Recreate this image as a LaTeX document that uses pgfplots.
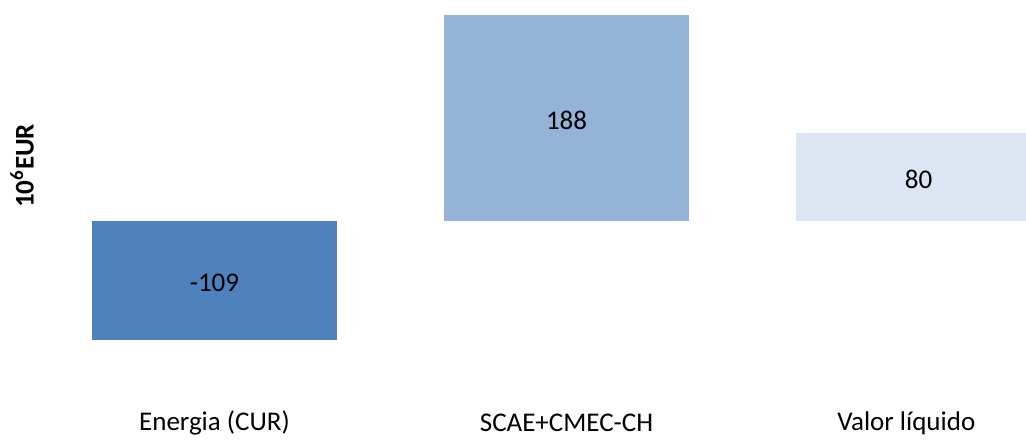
\documentclass[border=0pt]{standalone}
\usepackage{pgfplots}
\pgfplotsset{compat=1.18}
\usepackage{fontspec}
\setmainfont{Carlito}

\definecolor{barA}{HTML}{4F81BD}
\definecolor{barB}{HTML}{95B3D7}
\definecolor{barC}{HTML}{DCE6F2}

\begin{document}
\begin{tikzpicture}[font=\fontsize{13.5pt}{16pt}\selectfont]
\begin{axis}[
    scale only axis,
    width=513pt, height=216.5pt,
    xmin=-0.609, xmax=2.305,
    ymin=-193.6, ymax=201.8,
    axis line style={draw=none},
    tick style={draw=none},
    ytick=\empty,
    xtick={0,1,1.965},
    xticklabels={Energia (CUR), SCAE+CMEC-CH, Valor líquido},
    xticklabel style={anchor=center, yshift=5pt},
    ylabel={\textbf{10\textsuperscript{6}EUR}},
    ylabel style={at={(rel axis cs:0.0214,0.617)}, anchor=center},
    bar width=0.696,
]
\path (rel axis cs:0,0) rectangle (rel axis cs:1,1);
\addplot[ybar, bar shift=0pt, fill=barA, draw=none] coordinates {(0,-109)};
\addplot[ybar, bar shift=0pt, fill=barB, draw=none] coordinates {(1,188)};
\addplot[ybar, bar shift=0pt, fill=barC, draw=none] coordinates {(2,80)};
% value labels at the middle of each bar
\addplot[draw=none, mark=none, nodes near coords, point meta=explicit symbolic,
    every node near coord/.style={anchor=center, text=black, yshift=-1pt}]
    coordinates {(0,-54.5) [-109] (1,94) [188] (2,40) [80]};
\end{axis}
\end{tikzpicture}
\end{document}
